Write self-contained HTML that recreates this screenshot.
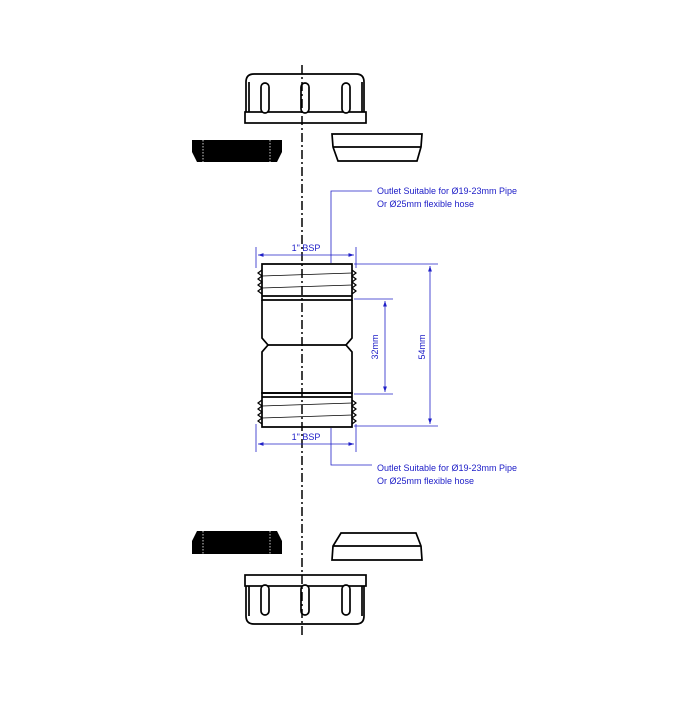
<!DOCTYPE html>
<html><head><style>body{margin:0;background:#fff}</style></head><body>
<svg width="700" height="700" viewBox="0 0 700 700" xmlns="http://www.w3.org/2000/svg" font-family="Liberation Sans, sans-serif">
<defs>
<marker id="a" viewBox="0 0 10 10" refX="10" refY="5" markerWidth="7" markerHeight="7" orient="auto-start-reverse"><path d="M0,1.5 L10,5 L0,8.5z" fill="#2020c8"/></marker>
</defs>
<g fill="none" stroke="#000" stroke-width="1.7">
<path d="M246,112 V82 Q246,74 254,74 H356 Q364,74 364,82 V112"/>
<rect x="245" y="112" width="121" height="11" fill="#fff"/>
<line x1="249" y1="82" x2="249" y2="112"/><line x1="362" y1="82" x2="362" y2="112"/>
<rect x="261" y="83" width="8" height="30" rx="4" fill="#fff"/>
<rect x="301" y="83" width="8" height="30" rx="4" fill="#fff"/>
<rect x="342" y="83" width="8" height="30" rx="4" fill="#fff"/>
<path d="M246,586 V616 Q246,624 254,624 H356 Q364,624 364,616 V586"/>
<rect x="245" y="575" width="121" height="11" fill="#fff"/>
<line x1="249" y1="586" x2="249" y2="616"/><line x1="362" y1="586" x2="362" y2="616"/>
<rect x="261" y="585" width="8" height="30" rx="4" fill="#fff"/>
<rect x="301" y="585" width="8" height="30" rx="4" fill="#fff"/>
<rect x="342" y="585" width="8" height="30" rx="4" fill="#fff"/>
<path d="M332,134 H422 L421,147 L417,161 H338 L333,147 Z M333,147 H421"/>
<path d="M341,533 H416 L421,546 L422,560 H332 L333,546 Z M333,546 H421"/>
<path d="M262,264 H352 V300 H262 Z"/>
<path d="M262,300 V338 L268,345 L262,352 V393 H352 V352 L346,345 L352,338 V300"/>
<line x1="268" y1="345" x2="346" y2="345"/>
<path d="M262,393 H352 V427 H262 Z"/>
<line x1="262" y1="296" x2="352" y2="296"/><line x1="262" y1="397" x2="352" y2="397"/>
</g>
<g stroke="#000" stroke-width="1.2" fill="none">
<path d="M262,270 L258,273 L262,276 L258,279 L262,282 L258,285 L262,288 L258,291 L262,294"/>
<path d="M352,270 L356,273 L352,276 L356,279 L352,282 L356,285 L352,288 L356,291 L352,294"/>
<path d="M262,400 L258,403 L262,406 L258,409 L262,412 L258,415 L262,418 L258,421 L262,424"/>
<path d="M352,400 L356,403 L352,406 L356,409 L352,412 L356,415 L352,418 L356,421 L352,424"/>
<path d="M262,276 L352,273 M262,288 L352,285" stroke-width="0.7"/>
<path d="M262,406 L352,403 M262,418 L352,415" stroke-width="0.7"/>
</g>
<path d="M192,140 H282 V152 L277,162 H197 L192,152 Z" fill="#000"/>
<path d="M197,531 H277 L282,541 V554 H192 V541 Z" fill="#000"/>
<g stroke="#fff" stroke-width="0.8" stroke-dasharray="1.5,1.5">
<line x1="203" y1="140" x2="203" y2="162"/><line x1="270" y1="140" x2="270" y2="162"/>
<line x1="203" y1="531" x2="203" y2="554"/><line x1="270" y1="531" x2="270" y2="554"/>
</g>
<line x1="302" y1="65" x2="302" y2="636" stroke="#000" stroke-width="1.5" stroke-dasharray="9,3,2,3"/>
<g stroke="#2020c8" stroke-width="0.8" fill="none">
<line x1="256" y1="247" x2="256" y2="268"/><line x1="356" y1="247" x2="356" y2="268"/>
<line x1="258" y1="255" x2="354" y2="255" marker-start="url(#a)" marker-end="url(#a)"/>
<line x1="256" y1="424" x2="256" y2="452"/><line x1="356" y1="424" x2="356" y2="452"/>
<line x1="258" y1="444" x2="354" y2="444" marker-start="url(#a)" marker-end="url(#a)"/>
<line x1="354" y1="299" x2="393" y2="299"/><line x1="354" y1="394" x2="393" y2="394"/>
<line x1="385" y1="301" x2="385" y2="392" marker-start="url(#a)" marker-end="url(#a)"/>
<line x1="354" y1="264" x2="438" y2="264"/><line x1="354" y1="426" x2="438" y2="426"/>
<line x1="430" y1="266" x2="430" y2="424" marker-start="url(#a)" marker-end="url(#a)"/>
<path d="M331,263 V191 H372"/>
<path d="M331,428 V465 H372"/>
</g>
<g fill="#2020c8" font-size="9">
<text x="306" y="251" text-anchor="middle">1" BSP</text>
<text x="306" y="440" text-anchor="middle">1" BSP</text>
<text x="377" y="194">Outlet Suitable for Ø19-23mm Pipe</text>
<text x="377" y="207">Or Ø25mm flexible hose</text>
<text x="377" y="471">Outlet Suitable for Ø19-23mm Pipe</text>
<text x="377" y="484">Or Ø25mm flexible hose</text>
<text transform="translate(378,347) rotate(-90)" text-anchor="middle">32mm</text>
<text transform="translate(425,347) rotate(-90)" text-anchor="middle">54mm</text>
</g>
</svg>
</body></html>
